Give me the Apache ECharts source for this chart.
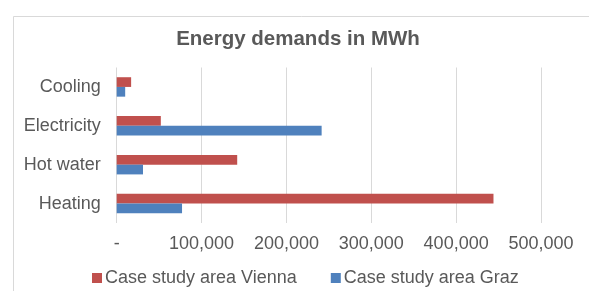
<!DOCTYPE html>
<html>
<head>
<meta charset="utf-8">
<script src="https://cdn.jsdelivr.net/npm/echarts@6/dist/echarts.min.js"></script>
<style>html,body{margin:0;padding:0;background:#fff;}#c{width:589px;height:291px;}</style>
</head>
<body>
<div id="c"></div>
<script>
var categories = ['Heating', 'Hot water', 'Electricity', 'Cooling'];
var vienna = [444000, 142000, 52000, 17000];
var graz = [77000, 31000, 241500, 10000];
var xTicks = [0, 100000, 200000, 300000, 400000, 500000];
var seriesNames = ['Case study area Vienna', 'Case study area Graz'];

var chart = echarts.init(document.getElementById('c'), null, {renderer: 'canvas'});
var font = '"Liberation Sans", Arial, sans-serif';
chart.setOption({
  animation: false,
  backgroundColor: '#fff',
  graphic: [{
    type: 'rect', shape: {x: 13.5, y: 16.5, width: 700, height: 400},
    style: {fill: 'none', stroke: '#d9d9d9', lineWidth: 1}, silent: true
  }],
  title: {
    text: 'Energy demands in MWh', left: 298, textAlign: 'center', top: 29,
    padding: 0,
    textStyle: {fontFamily: font, fontSize: 20.5, fontWeight: 'bold', color: '#595959'}
  },
  legend: {
    data: seriesNames, bottom: 4, left: 92, itemWidth: 10, itemHeight: 10, itemGap: 34,
    padding: 0,
    icon: 'rect',
    textStyle: {fontFamily: font, fontSize: 18, color: '#595959', padding: [0, 0, 0, -2]}
  },
  grid: {left: 116.7, right: 48, top: 67.5, bottom: 68, containLabel: false},
  xAxis: {
    type: 'value', min: 0, max: xTicks[xTicks.length - 1], interval: 100000,
    axisLine: {show: false}, axisTick: {show: false},
    splitLine: {show: true, lineStyle: {color: '#d9d9d9', width: 1}},
    axisLabel: {
      fontFamily: font, fontSize: 18, color: '#595959', margin: 12,
      formatter: function (v) { return v === 0 ? '-' : v.toLocaleString('en-US'); }
    }
  },
  yAxis: {
    type: 'category', data: categories,
    axisLine: {show: false}, axisTick: {show: false},
    axisLabel: {fontFamily: font, fontSize: 18, color: '#595959', margin: 16}
  },
  series: [
    {name: seriesNames[0], type: 'bar', data: vienna, itemStyle: {color: '#c0504d'},
     barGap: '0%', barCategoryGap: '50%'},
    {name: seriesNames[1], type: 'bar', data: graz, itemStyle: {color: '#4f81bd'},
     barGap: '0%', barCategoryGap: '50%'}
  ]
});
</script>
</body>
</html>
